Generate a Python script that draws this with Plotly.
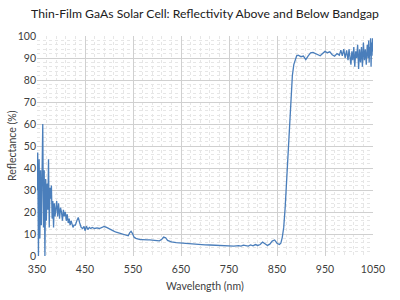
import plotly.graph_objects as go

# Wavelength (nm) and reflectance (%)
wavelength = [
    350, 351.5, 353, 354.5, 356, 357.5, 359, 360.5, 362, 363.5, 365, 366.5, 368, 369.5, 371, 372.5,
    374, 375.5, 377, 378.5, 380, 381.5, 383, 384.5, 386, 387.5, 389,
    391, 393, 395, 397, 399, 401, 403, 405, 407, 409, 411, 413, 415, 417, 419, 421, 423, 425, 427,
    430, 433, 436, 439, 442, 445, 448, 450, 453, 456, 459, 462, 465, 470, 475, 480, 485, 490, 495, 500,
    505, 510, 515, 520, 525, 530, 535, 540, 543, 546, 549, 552, 556, 560, 565, 570, 575, 580, 585, 590,
    595, 600, 605, 610, 614, 618, 622, 626, 630, 640, 650, 660, 670, 680, 690, 700, 710, 720, 730, 740,
    750, 760, 770, 775, 780, 785, 790, 795, 800, 805, 810, 815, 820, 825, 830, 835, 840, 845, 850, 855,
    858, 861, 864, 867, 870, 873, 876, 879, 882, 885, 888, 891, 894, 897, 900, 905, 910, 915, 920, 925,
    930, 935, 940, 945, 950, 955, 960, 965, 970, 975, 980, 983, 986, 989, 992, 995, 998, 1000, 1002, 1004,
    1006, 1008, 1010, 1012, 1014, 1016, 1018, 1020, 1022, 1024, 1026, 1028, 1030, 1032, 1034, 1036, 1038,
    1040, 1041, 1042, 1043, 1044, 1045, 1046, 1047, 1048, 1049, 1050,
]
reflectance = [
    30, 47, 0, 44, 8, 39, 14, 30, 60, 13, 39, 0, 35, 16, 33, 21,
    44, 13, 31, 26, 32, 17, 25, 13, 24, 18, 23,
    25, 18, 24, 17, 22, 20, 16, 21, 18, 20, 16, 19, 15, 17, 14, 16, 14, 13, 14,
    14, 16, 17.5, 15, 13, 12.5, 13.5, 11.5, 13.5, 12, 13, 12.5, 13, 12.5, 12.8, 12.5, 13, 13.4, 13, 12.3,
    11.8, 11.3, 10.8, 10.5, 10, 9.6, 9.3, 9.2, 10.5, 11.2, 10.2, 8.6, 8, 7.6, 7.4, 7.4, 7.2, 7.3, 7.3, 7.1,
    7, 7, 6.9, 7.6, 8.6, 8.3, 7.1, 6.6, 6.4, 6.1, 5.9, 5.6, 5.5, 5.4, 5.3, 5.1, 5, 4.9, 4.8, 4.6,
    4.5, 4.5, 4.7, 4.5, 4.9, 4.6, 4.5, 5, 4.6, 5.2, 4.8, 5.2, 6.3, 5.6, 4.8, 5.4, 6.8, 7.3, 5.8, 5.2,
    5.8, 8.5, 13, 22, 34, 48, 62, 74, 82, 87, 89.5, 91, 91.3, 90.8, 90.6, 90.9, 89.3, 91, 92.3, 92.5,
    92, 91.6, 91, 92, 93, 92.4, 92.8, 91.5, 90.8, 92, 91.3, 93.6, 91, 94, 90, 93.5, 89, 94, 91, 87,
    93, 89, 95, 86, 93, 90, 96, 85, 94, 88, 95, 86, 97, 89, 94, 87, 96, 90,
    98, 88, 95, 91, 99, 86, 97, 93, 99, 91, 78,
]

x_ticks = [350, 450, 550, 650, 750, 850, 950, 1050]
y_ticks = [0, 10, 20, 30, 40, 50, 60, 70, 80, 90, 100]

title_text = "Thin-Film GaAs Solar Cell: Reflectivity Above and Below Bandgap"
x_title = "Wavelength (nm)"
y_title = "Reflectance (%)"

font_family = "Lato, 'Open Sans', sans-serif"
text_color = "#404040"

fig = go.Figure()
fig.add_trace(go.Scatter(
    x=wavelength, y=reflectance, mode="lines",
    line=dict(color="#4a7ebb", width=1.3),
    showlegend=False, hoverinfo="skip",
))

grid_major = "#d0d0d0"
grid_minor = "#e6e6e6"

W, H = 400, 300
L, R, T, B = 37, 27, 36, 44
pw, ph = W - L - R, H - T - B

fig.update_layout(
    width=W, height=H,
    margin=dict(l=L, r=R, t=T, b=B, autoexpand=False),
    paper_bgcolor="white", plot_bgcolor="white",
    font=dict(family=font_family, color=text_color, size=10.5),
    hovermode=False,
    title=dict(
        text=title_text,
        x=0.5, xanchor="center", xref="paper", y=1 - 14 / H, yanchor="middle", yref="container",
        font=dict(family=font_family, size=12.2, color="#202020"),
    ),
    annotations=[
        dict(text=x_title, xref="paper", yref="paper", x=0.5, y=-(286 - (T + ph)) / ph,
             xanchor="center", yanchor="middle", showarrow=False,
             font=dict(size=10.5, color=text_color)),
        dict(text=y_title, xref="paper", yref="paper", x=-(L - 12) / pw, y=0.5,
             xanchor="center", yanchor="middle", textangle=-90, showarrow=False,
             font=dict(size=10.5, color=text_color)),
    ],
)
fig.update_xaxes(
    range=[350, 1050], tickmode="array", tickvals=x_ticks,
    showgrid=True, gridcolor=grid_major, gridwidth=1,
    zeroline=False, showline=False, ticks="", automargin=False,
    ticklabelstandoff=5,
    tickfont=dict(size=10.5, color=text_color),
    minor=dict(dtick=20, tick0=350, showgrid=True, gridcolor=grid_minor, griddash="dot"),
)
fig.update_yaxes(
    range=[0, 100], tickmode="array", tickvals=y_ticks,
    showgrid=True, gridcolor=grid_major, gridwidth=1,
    zeroline=False, showline=False, ticks="", automargin=False,
    tickfont=dict(size=10.5, color=text_color),
    minor=dict(dtick=2, showgrid=True, gridcolor=grid_minor, griddash="dot"),
)

fig.write_html("out.html", config={"displayModeBar": False},
               post_script="document.body.style.margin='0';")
